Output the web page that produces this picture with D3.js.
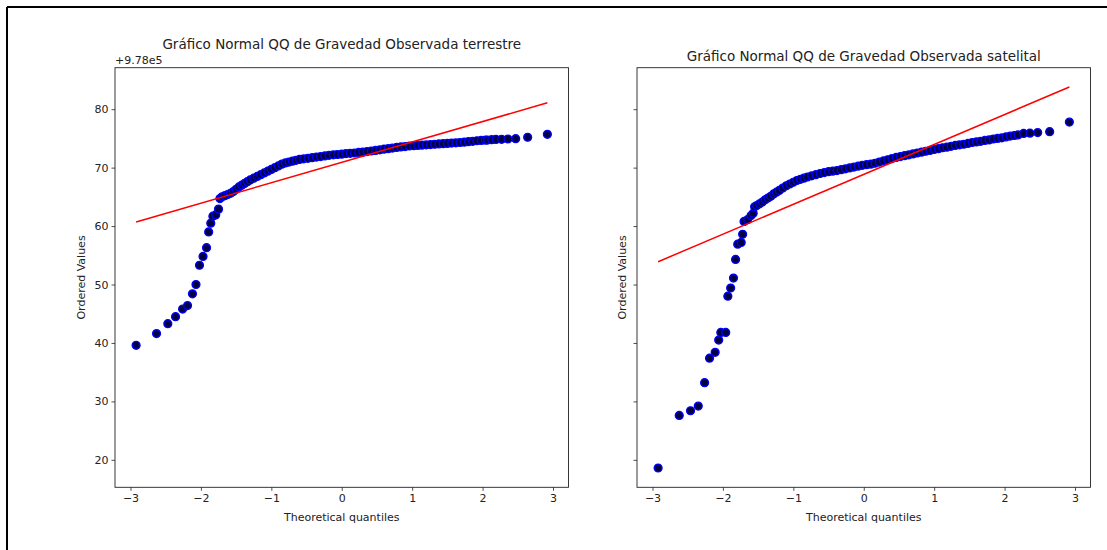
<!DOCTYPE html>
<html>
<head>
<meta charset="utf-8">
<script src="https://cdn.jsdelivr.net/npm/d3@7"></script>
<style>
  body { margin: 0; background: #fff; }
  svg text { font-family: "DejaVu Sans", sans-serif; fill: #222; }
</style>
</head>
<body>
<div id="chart"></div>
<script>
// Figure constants
const WIDTH = 1107;
const HEIGHT = 550;
const PLOT_TOP = 67.7;
const PLOT_BOTTOM = 487.3;
const PANELS_X = [[115, 568.5], [637, 1090.5]];

// Ordered values are relative to the offset +9.78e5
const OFFSET_LABEL = "+9.78e5";
const X_TICKS = [-3, -2, -1, 0, 1, 2, 3];
const Y_TICKS = [20, 30, 40, 50, 60, 70, 80];
const TITLES = ["Gráfico Normal QQ de Gravedad Observada terrestre",
                "Gráfico Normal QQ de Gravedad Observada satelital"];

// terrestre: theoretical quantiles and ordered values
const terrX = [-2.92, -2.63, -2.47, -2.36, -2.26, -2.19, -2.12, -2.07, -2.02, -1.97, -1.92, -1.89, -1.86, -1.83, -1.79, -1.75,
  -1.73, -1.70, -1.66, -1.62, -1.58, -1.54, -1.50, -1.46, -1.42, -1.38, -1.34, -1.30, -1.25, -1.20, -1.15, -1.10, -1.05,
  -1.00, -0.95, -0.90, -0.85, -0.80, -0.75, -0.70, -0.65, -0.60, -0.54, -0.48, -0.42, -0.36, -0.30, -0.24, -0.18, -0.12,
  -0.06, 0.00, 0.06, 0.12, 0.18, 0.24, 0.30, 0.36, 0.42, 0.48, 0.54, 0.60, 0.66, 0.72, 0.78, 0.84, 0.90, 0.96, 1.02, 1.08,
  1.14, 1.20, 1.26, 1.32, 1.38, 1.44, 1.50, 1.56, 1.62, 1.68, 1.74, 1.80, 1.86, 1.92, 1.98, 2.04, 2.07, 2.13, 2.19, 2.27,
  2.36, 2.47, 2.64, 2.92];
const terrY = [39.6, 41.6, 43.3, 44.5, 45.8, 46.4, 48.4, 50.0, 53.3, 54.8, 56.3, 59.0, 60.5, 61.7, 61.9, 62.9,
  64.7, 65.0, 65.2, 65.4, 65.6, 65.9, 66.3, 66.7, 67.0, 67.3, 67.6, 67.9, 68.2, 68.5, 68.8, 69.1, 69.4,
  69.7, 70.0, 70.3, 70.6, 70.8, 70.95, 71.1, 71.25, 71.4, 71.5, 71.6, 71.7, 71.8, 71.9, 72.0, 72.1, 72.2,
  72.25, 72.3, 72.4, 72.45, 72.5, 72.6, 72.65, 72.75, 72.85, 72.95, 73.05, 73.15, 73.25, 73.35, 73.45, 73.55, 73.6, 73.7, 73.75, 73.8,
  73.85, 73.9, 73.95, 74.0, 74.05, 74.1, 74.15, 74.2, 74.25, 74.3, 74.35, 74.45, 74.5, 74.6, 74.65, 74.7, 74.72, 74.78, 74.82, 74.85,
  74.9, 74.95, 75.2, 75.7];
const terrFitX = [-2.92, 2.92];
const terrFitY = [60.7, 81.1];

// satelital: theoretical quantiles and ordered values
const satX = [-2.92, -2.62, -2.46, -2.35, -2.26, -2.19, -2.11, -2.06, -2.03, -1.96, -1.93, -1.89, -1.85, -1.82, -1.79, -1.74,
  -1.72, -1.70, -1.65, -1.60, -1.57, -1.55, -1.52, -1.48, -1.44, -1.40, -1.36, -1.32, -1.28, -1.24, -1.20, -1.15, -1.10,
  -1.05, -1.00, -0.95, -0.90, -0.85, -0.80, -0.74, -0.68, -0.62, -0.56, -0.50, -0.44, -0.38, -0.32, -0.26, -0.20, -0.14,
  -0.08, -0.02, 0.04, 0.10, 0.16, 0.22, 0.28, 0.34, 0.40, 0.46, 0.52, 0.58, 0.64, 0.70, 0.76, 0.82, 0.88, 0.94, 1.00, 1.06,
  1.12, 1.18, 1.24, 1.30, 1.36, 1.42, 1.48, 1.54, 1.60, 1.66, 1.72, 1.78, 1.84, 1.90, 1.96, 2.02, 2.08, 2.14, 2.19, 2.27,
  2.36, 2.47, 2.64, 2.92];
const satY = [18.6, 27.6, 28.4, 29.2, 33.2, 37.4, 38.4, 40.5, 41.8, 41.8, 48.0, 49.4, 51.1, 54.3, 56.9, 57.2,
  58.6, 60.8, 61.1, 61.8, 62.2, 63.3, 63.5, 63.8, 64.1, 64.5, 64.8, 65.1, 65.5, 65.8, 66.1, 66.5, 66.9,
  67.2, 67.5, 67.8, 68.0, 68.2, 68.4, 68.6, 68.8, 69.0, 69.15, 69.3, 69.4, 69.5, 69.65, 69.8, 69.95, 70.1,
  70.25, 70.4, 70.5, 70.6, 70.75, 70.95, 71.15, 71.35, 71.55, 71.75, 71.9, 72.05, 72.2, 72.35, 72.5, 72.65, 72.8, 72.95, 73.1, 73.25,
  73.4, 73.5, 73.65, 73.8, 73.9, 74.0, 74.15, 74.3, 74.4, 74.5, 74.65, 74.75, 74.9, 75.0, 75.1, 75.25, 75.4, 75.5, 75.6, 75.85,
  75.9, 76.0, 76.15, 77.8];
const satFitX = [-2.92, 2.92];
const satFitY = [53.9, 83.8];

const svg = d3.select("#chart").append("svg")
  .attr("width", WIDTH).attr("height", HEIGHT)
  .style("display", "block");

svg.append("rect").attr("width", WIDTH).attr("height", HEIGHT).attr("fill", "#fff");

// frame of the screenshot (left and top only)
svg.append("line").attr("x1", 7).attr("y1", 7).attr("x2", WIDTH).attr("y2", 7)
  .attr("stroke", "#000").attr("stroke-width", 2);
svg.append("line").attr("x1", 7).attr("y1", 7).attr("x2", 7).attr("y2", HEIGHT)
  .attr("stroke", "#000").attr("stroke-width", 2);

// shared y scale
const yScale = d3.scaleLinear().domain([15.3, 87.1]).range([PLOT_BOTTOM, PLOT_TOP]);

function drawPanel(i, xs, ys, fitX, fitY, showYLabels) {
  const [x0, x1] = PANELS_X[i];
  const xScale = d3.scaleLinear().domain([-3.22, 3.22]).range([x0, x1]);
  const g = svg.append("g");

  // axes
  const xAxis = d3.axisBottom(xScale).tickValues(X_TICKS).tickSize(3.5).tickPadding(3)
    .tickFormat(d3.format("d"));
  g.append("g").attr("transform", `translate(0,${PLOT_BOTTOM})`).call(xAxis);

  const yAxis = d3.axisLeft(yScale).tickValues(Y_TICKS).tickSize(3.5).tickPadding(3)
    .tickFormat(showYLabels ? d3.format("d") : () => "");
  g.append("g").attr("transform", `translate(${x0},0)`).call(yAxis);

  g.selectAll(".domain").remove();
  g.selectAll(".tick line").attr("stroke", "#222").attr("stroke-width", 0.8);
  g.selectAll(".tick text").style("font-size", "11px").attr("fill", "#222");

  // markers
  const pts = xs.map((d, k) => ({x: d, y: ys[k]}));
  g.append("g").selectAll("circle")
    .data(pts)
    .enter()
    .append("circle")
    .attr("cx", d => xScale(d.x))
    .attr("cy", d => yScale(d.y))
    .attr("r", 3.9)
    .attr("fill", "#000040")
    .attr("stroke", "#0000ff")
    .attr("stroke-width", 1.4);

  // fitted line
  const line = d3.line().x(d => xScale(d[0])).y(d => yScale(d[1]));
  g.append("path")
    .datum(fitX.map((d, k) => [d, fitY[k]]))
    .attr("d", line)
    .attr("fill", "none")
    .attr("stroke", "#ff0000")
    .attr("stroke-width", 1.5);

  // spines
  g.append("rect")
    .attr("x", x0).attr("y", PLOT_TOP)
    .attr("width", x1 - x0).attr("height", PLOT_BOTTOM - PLOT_TOP)
    .attr("fill", "none").attr("stroke", "#222").attr("stroke-width", 0.9);

  // labels
  const cx = (x0 + x1) / 2;
  g.append("text").attr("x", cx).attr("y", 521).attr("text-anchor", "middle")
    .style("font-size", "11px").text("Theoretical quantiles");
  g.append("text")
    .attr("transform", `translate(${x0 - (showYLabels ? 30 : 11)},${(PLOT_TOP + PLOT_BOTTOM) / 2}) rotate(-90)`)
    .attr("text-anchor", "middle")
    .style("font-size", "11px").text("Ordered Values");
  g.append("text").attr("x", cx).attr("y", showYLabels ? 49 : 61).attr("text-anchor", "middle")
    .style("font-size", "13.5px").text(TITLES[i]);
  if (showYLabels) {
    g.append("text").attr("x", x0).attr("y", 64)
      .style("font-size", "11px").text(OFFSET_LABEL);
  }
}

drawPanel(0, terrX, terrY, terrFitX, terrFitY, true);
drawPanel(1, satX, satY, satFitX, satFitY, false);
</script>
</body>
</html>
